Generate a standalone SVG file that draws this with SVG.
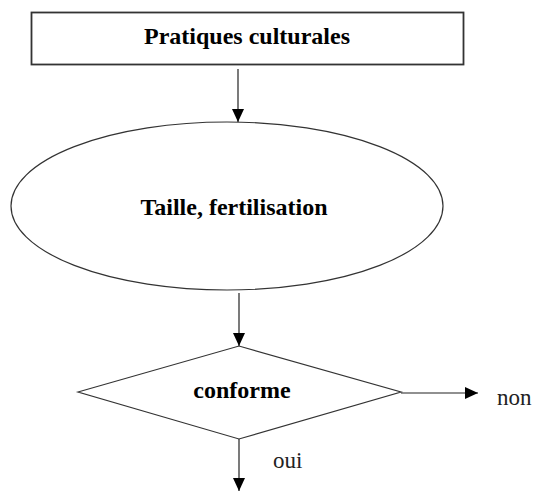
<svg xmlns="http://www.w3.org/2000/svg" width="537" height="492" viewBox="0 0 537 492">
<style>
.shape{fill:#fff;stroke:#333;stroke-width:1.2}
.box{fill:#fff;stroke:#333;stroke-width:1.8}
.conn{stroke:#222;stroke-width:1.2;fill:none}
.b{font-family:"Liberation Serif","Times New Roman",serif;font-weight:bold;font-size:24px;fill:#000;text-anchor:middle}
.r{font-family:"Liberation Serif","Times New Roman",serif;font-size:23px;fill:#222}
</style>
<defs>
<marker id="ah" markerUnits="userSpaceOnUse" markerWidth="13" markerHeight="12" refX="13" refY="6" orient="auto">
<path d="M0,0 L13,6 L0,12 z" fill="#000"/>
</marker>
</defs>
<rect width="537" height="492" fill="#fff"/>
<g id="pratiques">
<rect class="box" x="31.5" y="12.5" width="432" height="52"/>
<text class="b" x="247" y="44">Pratiques culturales</text>
</g>
<g id="taille">
<ellipse class="shape" cx="227" cy="206" rx="216" ry="84"/>
<text class="b" x="234" y="215">Taille, fertilisation</text>
</g>
<g id="conforme">
<polygon class="shape" points="78,392 239,346 401,392 239,439"/>
<text class="b" x="242" y="398">conforme</text>
</g>
<g id="connectors">
<line class="conn" x1="238" y1="69" x2="238" y2="122" marker-end="url(#ah)"/>
<line class="conn" x1="239" y1="293" x2="239" y2="346" marker-end="url(#ah)"/>
<line class="conn" x1="401" y1="393" x2="478" y2="393" marker-end="url(#ah)"/>
<line class="conn" x1="239" y1="439" x2="239" y2="491" marker-end="url(#ah)"/>
<text class="r" x="497" y="405">non</text>
<text class="r" x="273" y="468">oui</text>
</g>
</svg>
